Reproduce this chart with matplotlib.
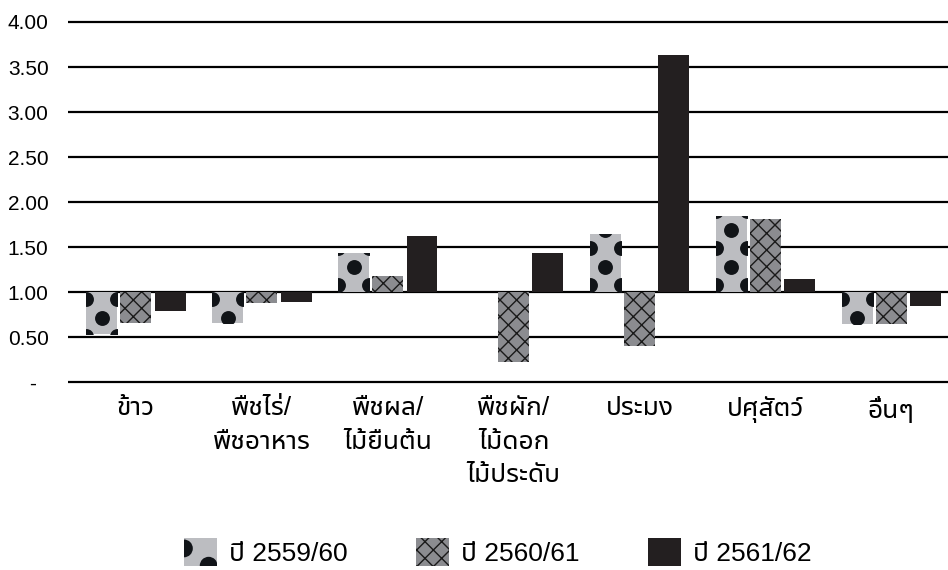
import numpy as np
import matplotlib
matplotlib.use('Agg')
import matplotlib.pyplot as plt
from matplotlib import font_manager
from matplotlib.ft2font import FT2Font
from matplotlib.patches import Patch, Rectangle, Circle

# data (bars grow from the 1.00 line)
categories = ['ข้าว', 'พืชไร่/\nพืชอาหาร', 'พืชผล/\nไม้ยืนต้น',
              'พืชผัก/\nไม้ดอก\nไม้ประดับ', 'ประมง', 'ปศุสัตว์', 'อื่นๆ']
series_names = ['ปี 2559/60', 'ปี 2560/61', 'ปี 2561/62']
y2559 = [0.53, 0.66, 1.43, np.nan, 1.64, 1.84, 0.64]
y2560 = [0.66, 0.88, 1.18, 0.22, 0.40, 1.81, 0.64]
y2561 = [0.79, 0.89, 1.62, 1.43, 3.63, 1.14, 0.84]
yticks = [0, 0.5, 1.0, 1.5, 2.0, 2.5, 3.0, 3.5, 4.0]
ytick_labels = ['-  ', '0.50', '1.00', '1.50', '2.00', '2.50', '3.00', '3.50', '4.00']
base = 1.0


# find an installed font that has Thai glyphs (prefer a loopless sans)
def find_thai_font():
    found = []
    for f in font_manager.fontManager.ttflist:
        try:
            if ord('ก') in FT2Font(f.fname).get_charmap():
                found.append(f.name)
        except Exception:
            pass
    for pref in ['Noto Sans Thai', 'Kanit', 'Prompt', 'Sarabun', 'Loma']:
        for name in found:
            if name.startswith(pref) and 'Looped' not in name:
                return name
    return found[0] if found else 'DejaVu Sans'


thai = find_thai_font()
plt.rcParams['font.family'] = [thai, 'Liberation Sans', 'DejaVu Sans']
plt.rcParams['hatch.linewidth'] = 1.0

light = '#bcbdc1'
mid = '#8b8c90'
dark = '#231f20'
dotc = '#111418'


# legend key for the dotted series: grey square with big dots on its edge
class DotHandler:
    def legend_artist(self, legend, orig_handle, fontsize, handlebox):
        x0, y0 = -handlebox.xdescent, -handlebox.ydescent
        w, h = handlebox.width, handlebox.height
        rect = Rectangle((x0, y0), w, h, facecolor=light, lw=0)
        handlebox.add_artist(rect)
        for cx, cy in [(x0, y0 + 0.62 * h), (x0 + 0.75 * w, y0)]:
            c = Circle((cx, cy), 0.27 * w, facecolor=dotc, lw=0)
            handlebox.add_artist(c)
            c.set_clip_path(rect)
        return rect


fig = plt.figure(figsize=(9.48, 5.70), dpi=100)
ax = fig.add_axes([0.0717, 0.3219, 0.9283, 0.6474])

x = np.arange(len(categories))
w = 0.246
off = 0.272

b1 = ax.bar(x - off, np.array(y2559) - base, w, bottom=base, color=light, lw=0, zorder=2)
b2 = ax.bar(x, np.array(y2560) - base, w, bottom=base, color=mid, edgecolor='#1a1a1a',
            lw=0, hatch='xx', zorder=2)
b3 = ax.bar(x + off, np.array(y2561) - base, w, bottom=base, color=dark, lw=0, zorder=2)

ax.set_xlim(-0.540, 6.45)
ax.set_ylim(-0.05, 4.05)

# big black dots on the first series, clipped to each bar
inv = ax.transData.inverted()
for bar in b1:
    h = bar.get_height()
    if np.isnan(h):
        continue
    x0, y0 = ax.transData.transform((bar.get_x(), base))
    x1, y1 = ax.transData.transform((bar.get_x() + bar.get_width(), base + h))
    sign = 1 if y1 > y0 else -1
    pts = []
    d, k = 7, 0
    while d < abs(y1 - y0) + 8:
        xs = [x0, x1] if k % 2 == 0 else [(x0 + x1) / 2]
        for xx in xs:
            pts.append((xx, y0 + sign * d))
        d += 18.5
        k += 1
    pts = inv.transform(pts)
    sc = ax.scatter(pts[:, 0], pts[:, 1], s=115, color=dotc, linewidths=0, zorder=3)
    sc.set_clip_path(bar)

ax.set_yticks(yticks)
ax.set_yticklabels(ytick_labels, fontsize=15, family=['Liberation Sans', 'DejaVu Sans'])
ax.set_xticks(x)
ax.set_xticklabels(categories, fontsize=19, linespacing=1.5)
ax.tick_params(axis='y', length=0, pad=14)
ax.tick_params(axis='x', length=0, pad=7)
ax.grid(axis='y', color='black', lw=1.6)
ax.set_axisbelow(True)
for s in ax.spines.values():
    s.set_visible(False)

handles = [
    Patch(facecolor=light, lw=0),
    Patch(facecolor=mid, edgecolor='#1a1a1a', lw=0, hatch='xx'),
    Patch(facecolor=dark, lw=0),
]
fig.legend(handles, series_names, loc='center', bbox_to_anchor=(0.525, 0.032),
           ncol=3, frameon=False, prop={'size': 19, 'family': ['Liberation Sans', thai]},
           handlelength=1.25, handleheight=1.25, handletextpad=0.45, columnspacing=2.6,
           borderpad=0, handler_map={handles[0]: DotHandler()})

fig.savefig('out.png', dpi=100)
